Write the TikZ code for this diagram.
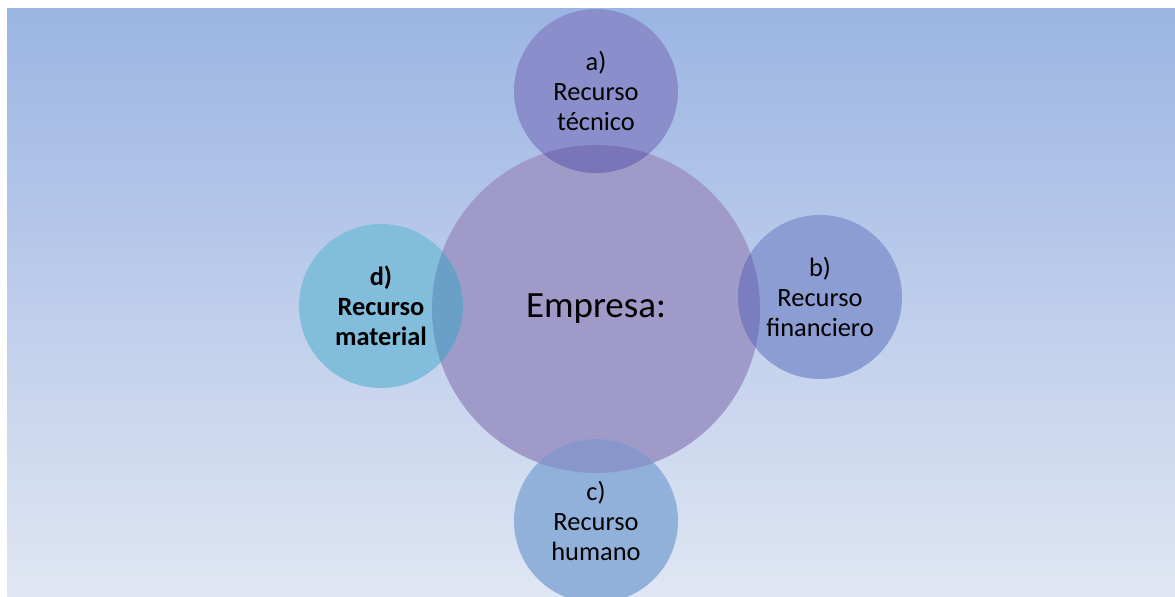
\documentclass[tikz,border=0pt]{standalone}
\usepackage{fontspec}
\setmainfont{Carlito}
\definecolor{bgtop}{RGB}{155,181,227}
\definecolor{bgbot}{RGB}{224,230,243}
\definecolor{cenc}{RGB}{159,154,200}
\definecolor{acol}{RGB}{138,143,204}
\definecolor{bcol}{RGB}{139,157,211}
\definecolor{ccol}{RGB}{146,177,218}
\definecolor{dcol}{RGB}{130,190,219}
\definecolor{aov}{RGB}{122,117,184}
\definecolor{bov}{RGB}{122,126,192}
\definecolor{cov}{RGB}{136,150,204}
\definecolor{dov}{RGB}{106,159,200}
\begin{document}
\begin{tikzpicture}[x=0.5pt,y=-0.5pt,
  bigc/.style={circle,inner sep=0pt,minimum size=164pt,font=\fontsize{18.5}{22}\selectfont},
  smallc/.style={circle,inner sep=0pt,minimum size=82pt,align=center,font=\fontsize{13.2}{15}\selectfont}]
\useasboundingbox (0,0) rectangle (1175,597);
\fill[white] (0,0) rectangle (1175,597);
\shade[top color=bgtop,bottom color=bgbot] (7,9) rectangle (1175,597);
\begin{scope}
\clip (7,9) rectangle (1175,597);
\node[bigc,fill=cenc] (cen) at (596,309) {};
\node[smallc,fill=acol] (a) at (596,91) {};
\node[smallc,fill=bcol] (b) at (820,297) {};
\node[smallc,fill=ccol] (c) at (596,521) {};
\node[smallc,fill=dcol] (d) at (381,306) {};
\begin{scope}
\clip (cen.center) circle[radius=164];
\fill[aov] (a.center) circle[radius=82];
\fill[bov] (b.center) circle[radius=82];
\fill[cov] (c.center) circle[radius=82];
\fill[dov] (d.center) circle[radius=82];
\end{scope}
\end{scope}
\node[bigc] (tcen) at (cen.center) {Empresa:};
\node[smallc] (ta) at (a.center) {a)\\Recurso\\técnico};
\node[smallc] (tb) at (b.center) {b)\\Recurso\\financiero};
\node[smallc] (tc) at (c.center) {c)\\Recurso\\humano};
\node[smallc,font=\fontsize{13.2}{15}\selectfont\bfseries] (td) at (d.center) {d)\\Recurso\\material};
\end{tikzpicture}
\end{document}
